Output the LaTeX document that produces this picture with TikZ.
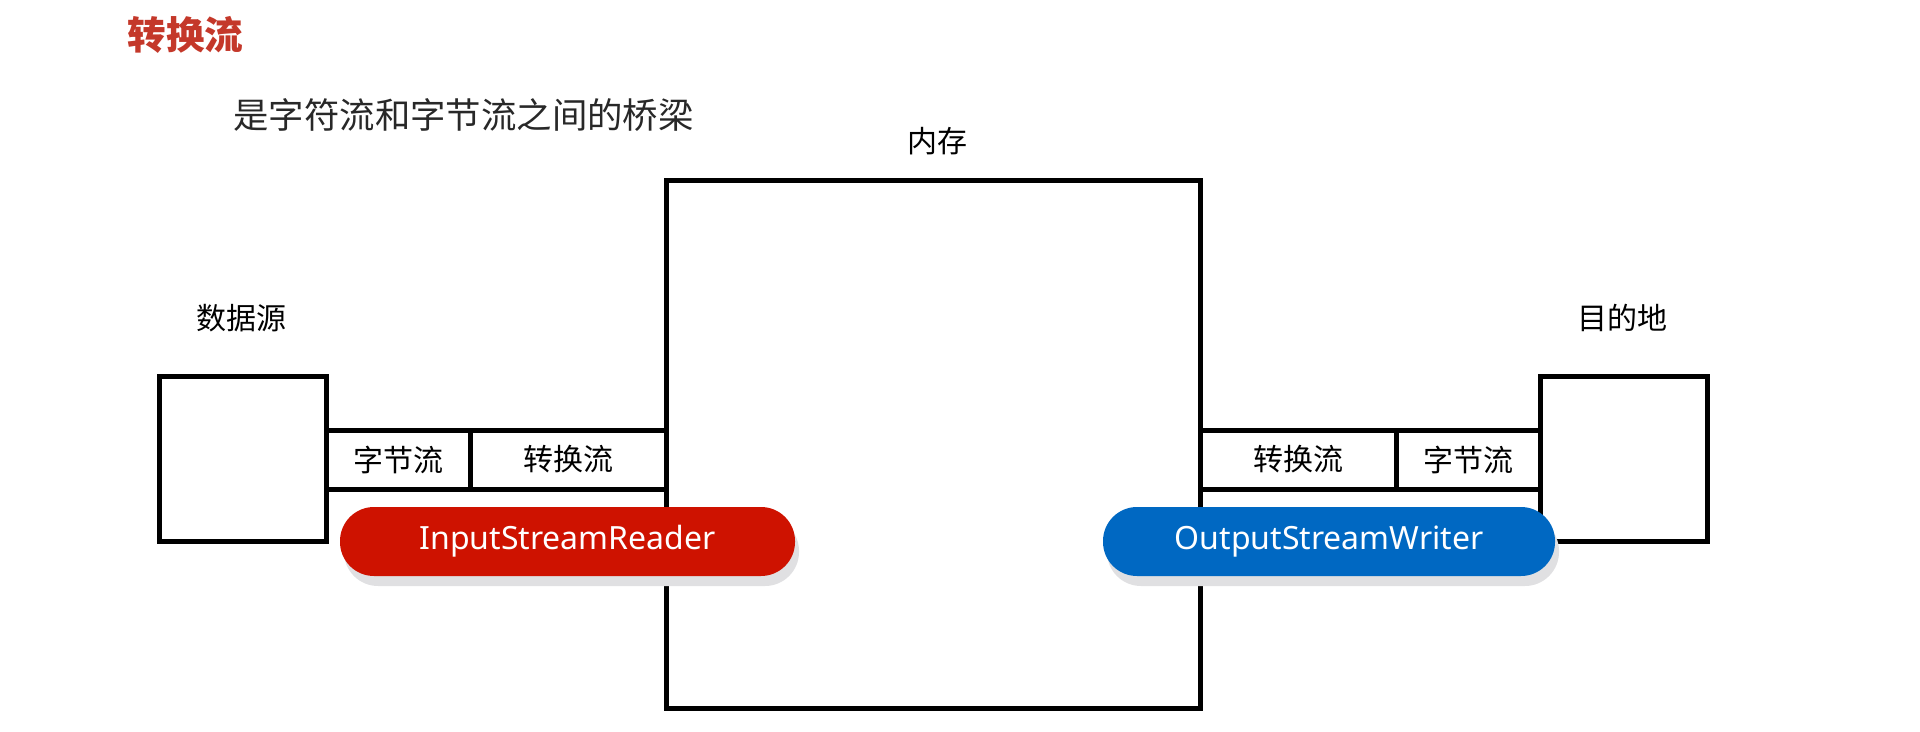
\documentclass[tikz,border=0pt]{standalone}
\usepackage{fontspec}
\newfontfamily\cjk{Noto Sans CJK SC}
\newfontfamily\lat{Noto Sans}
\usetikzlibrary{shadows}
\definecolor{titlered}{RGB}{196,56,42}
\definecolor{pillred}{RGB}{206,18,0}
\definecolor{pillblue}{RGB}{0,104,194}
\definecolor{subgray}{RGB}{40,40,40}
\definecolor{shadowgray}{RGB}{224,224,226}
\tikzset{
  box/.style={draw=black, line width=2.5pt, fill=white, inner sep=0pt},
  cell/.style={draw=black, line width=2.5pt, fill=white, inner sep=0pt, minimum height=29.5pt, font=\cjk\fontsize{15}{18}\selectfont},
  lbl/.style={font=\cjk\fontsize{15}{18}\selectfont, inner sep=0pt},
  pill/.style={rounded corners=17pt, minimum height=34.5pt, text=white, inner sep=0pt,
    font=\lat\fontsize{16}{18}\selectfont,
    drop shadow={shadow xshift=2pt, shadow yshift=-5pt, fill=shadowgray, opacity=1}},
}
\begin{document}
\begin{tikzpicture}[x=0.5pt, y=-0.5pt]
\useasboundingbox (0,0) rectangle (1920,732);
% title and subtitle
\node[anchor=west, inner sep=0pt, text=titlered, font=\cjk\bfseries\fontsize{19.3}{22}\selectfont] (title) at (127,35) {转换流};
\node[anchor=west, inner sep=0pt, text=subgray, font=\cjk\fontsize{17.7}{21}\selectfont] (sub) at (233,115) {是字符流和字节流之间的桥梁};
% memory
\node[box, minimum width=267pt, minimum height=263.5pt] (mem) at (933,444.5) {};
\node[lbl] (memlbl) at (937,141) {内存};
% source
\node[box, minimum width=83.5pt, minimum height=82.5pt] (src) at (242.5,458.5) {};
\node[lbl] (srclbl) at (241,318) {数据源};
% destination
\node[box, minimum width=83.5pt, minimum height=82.5pt] (dst) at (1623.5,458.5) {};
\node[lbl] (dstlbl) at (1622,318) {目的地};
% left strip
\node[cell, minimum width=72pt] (lbyte) at (398,459.5) {字节流};
\node[cell, minimum width=98pt] (lconv) at (568,459.5) {转换流};
% right strip
\node[cell, minimum width=98pt] (rconv) at (1298,459.5) {转换流};
\node[cell, minimum width=72pt] (rbyte) at (1468,459.5) {字节流};
% pills
\node[pill, fill=pillred, minimum width=227.5pt] (isr) at (567.5,541.5) {\raisebox{-1pt}{InputStreamReader}};
\node[pill, fill=pillblue, minimum width=226pt] (osw) at (1329,541.5) {\raisebox{-1pt}{OutputStreamWriter}};
\end{tikzpicture}
\end{document}
